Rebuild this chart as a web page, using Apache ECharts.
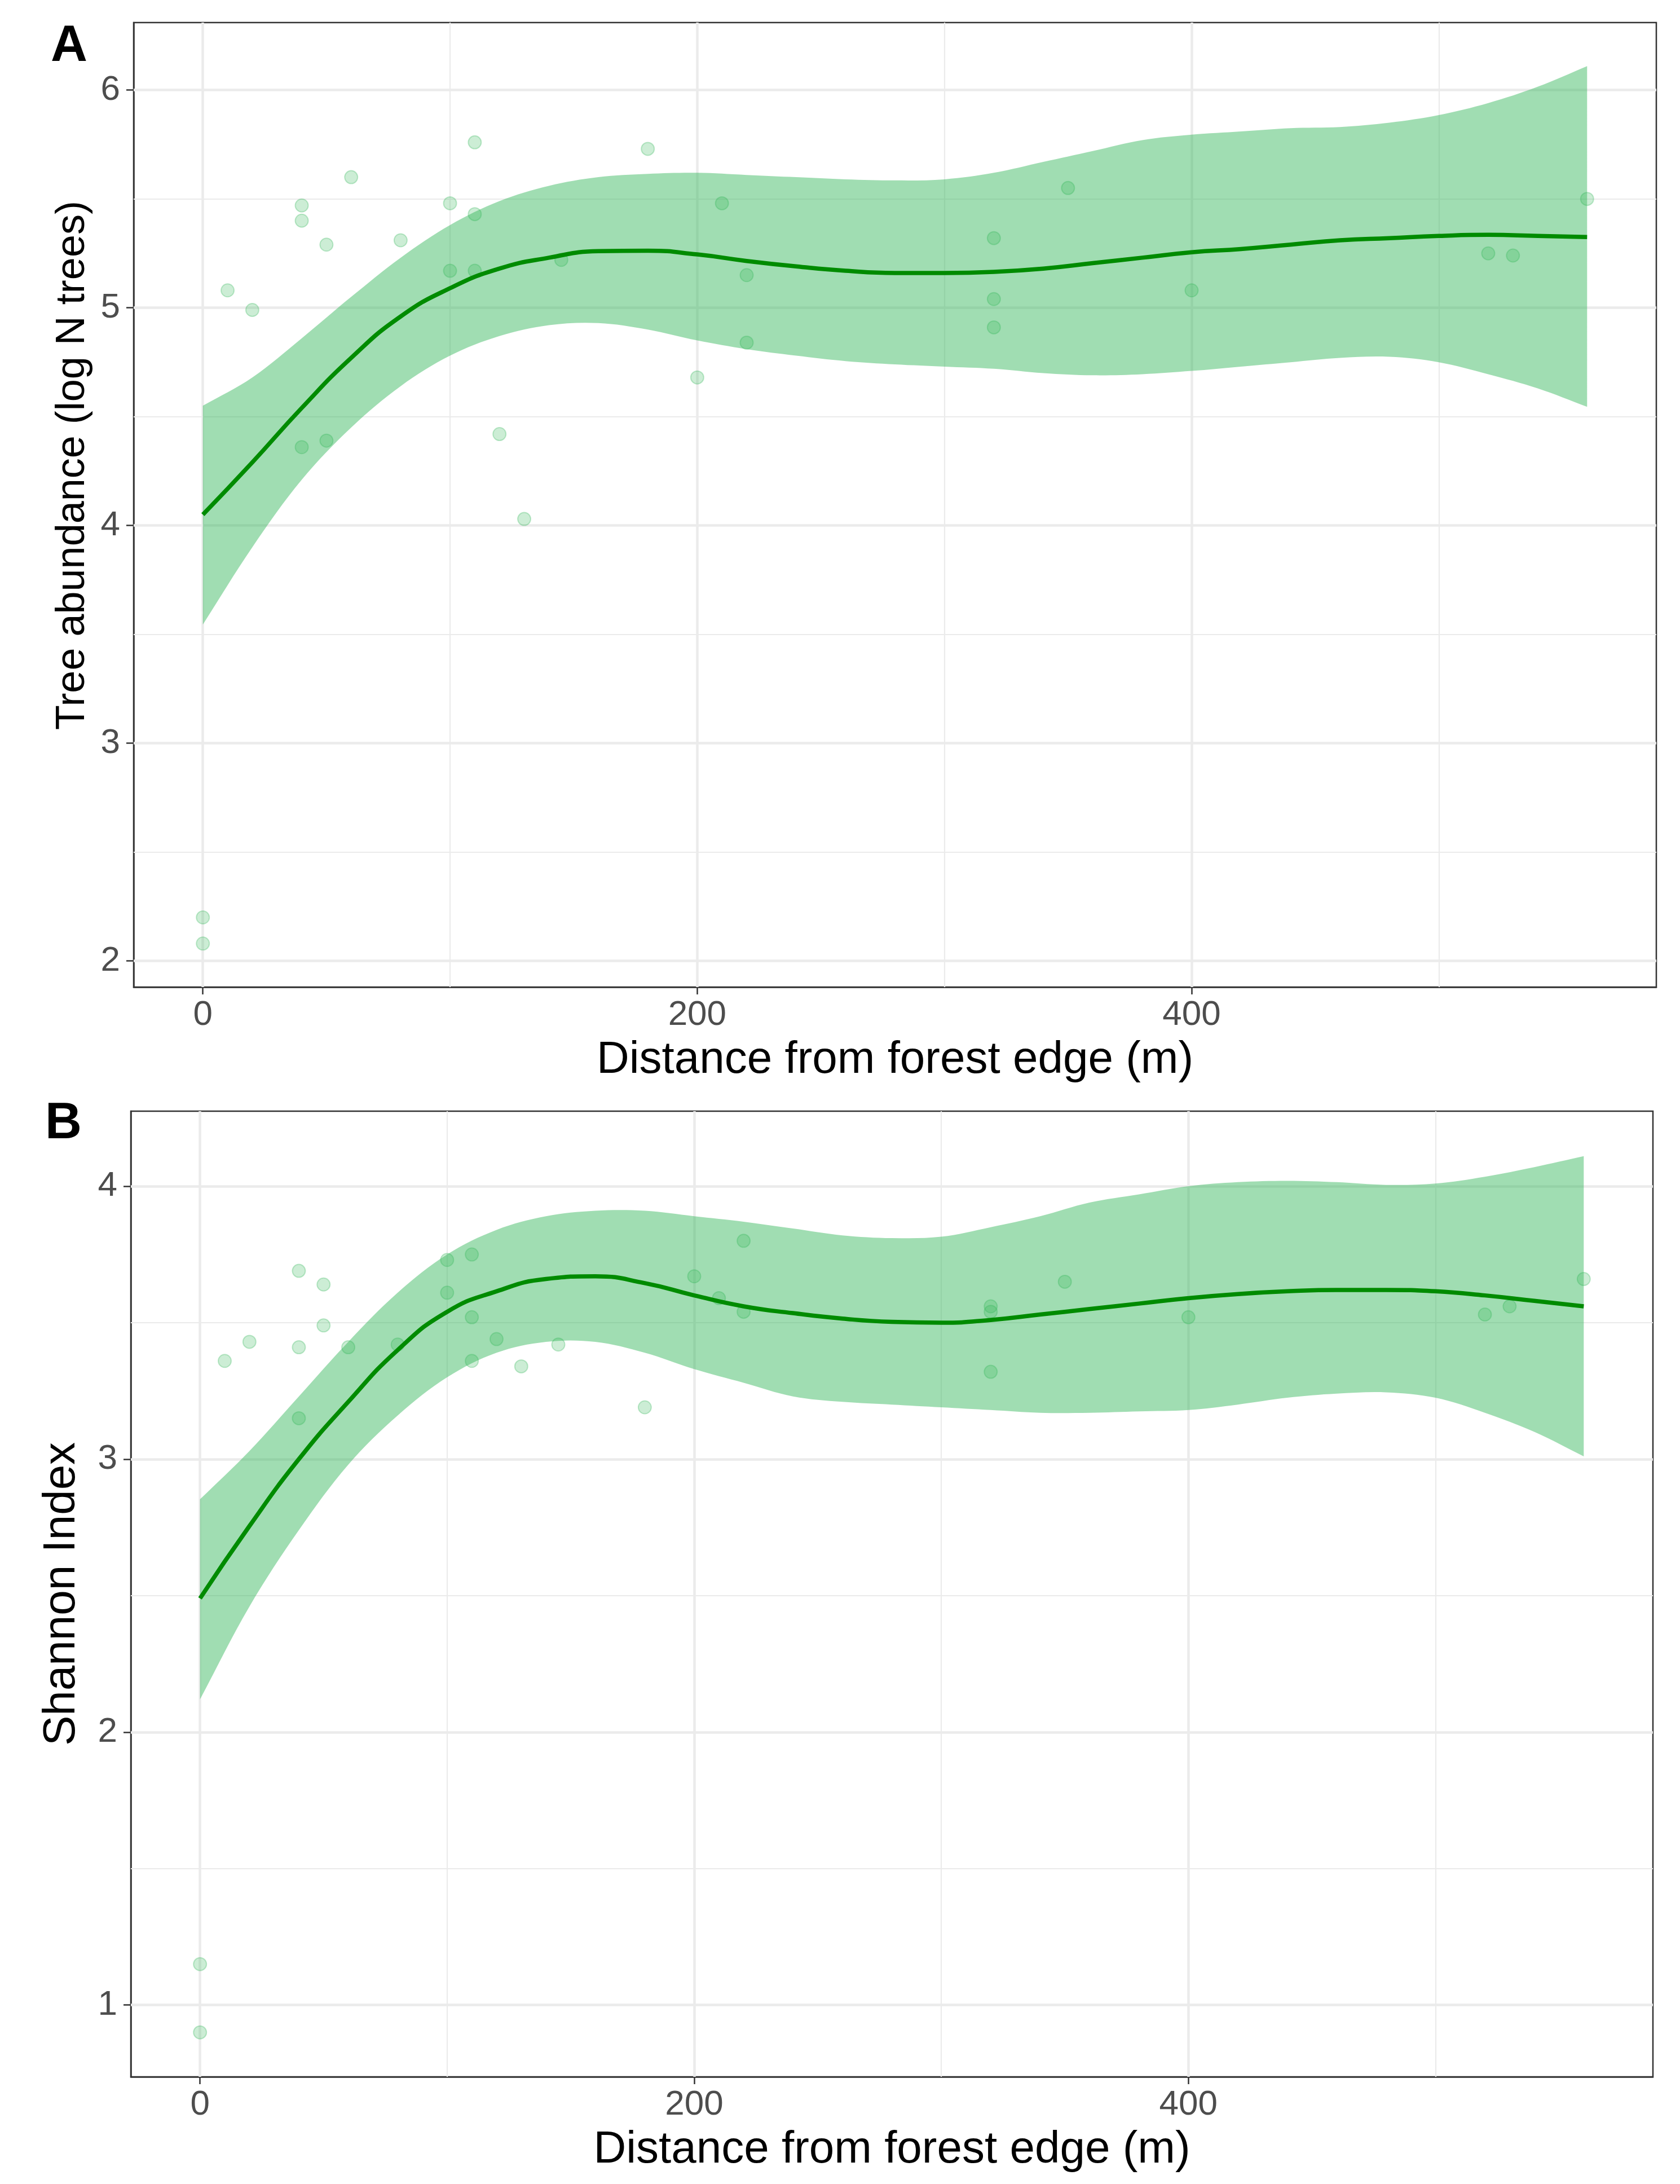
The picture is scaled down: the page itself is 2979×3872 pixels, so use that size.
<!DOCTYPE html>
<html>
<head>
<meta charset="utf-8">
<script src="https://cdn.jsdelivr.net/npm/echarts@6/dist/echarts.min.js"></script>
<style>
html,body{margin:0;padding:0;background:#ffffff;}
#chart{width:2979px;height:3872px;}
</style>
</head>
<body>
<div id="chart"></div>
<script>
// ---------- data ----------
// Panel A: tree abundance (log N trees)
const distA   = [0,0,10,20,40,40,40,50,50,60,80,100,100,110,110,110,120,130,145,180,200,210,220,220,320,320,320,350,400,520,530,560];
const abundA  = [2.20,2.08,5.08,4.99,5.47,5.40,4.36,5.29,4.39,5.60,5.31,5.48,5.17,5.76,5.43,5.17,4.42,4.03,5.22,5.73,4.68,5.48,5.15,4.84,5.32,5.04,4.91,5.55,5.08,5.25,5.24,5.50];
// Panel B: Shannon index
const distB    = [0,0,10,20,40,40,40,50,50,60,80,100,100,110,110,110,120,130,145,180,200,210,220,220,320,320,320,350,400,520,530,560];
const shannonB = [1.15,0.90,3.36,3.43,3.69,3.41,3.15,3.64,3.49,3.41,3.42,3.73,3.61,3.75,3.52,3.36,3.44,3.34,3.42,3.19,3.67,3.59,3.80,3.54,3.56,3.54,3.32,3.65,3.52,3.53,3.56,3.66];

// smooth fits (curve and confidence band) read at these distances
const fitX = [0,20,40,60,80,100,120,140,160,180,200,220,240,260,280,300,320,340,360,380,400,420,440,460,480,500,520,540,560];
const fitA = [4.05,4.29,4.54,4.77,4.96,5.09,5.18,5.23,5.26,5.262,5.245,5.215,5.19,5.17,5.16,5.16,5.165,5.18,5.205,5.23,5.255,5.27,5.29,5.31,5.32,5.33,5.335,5.33,5.325];
const hiA  = [4.55,4.68,4.86,5.05,5.23,5.38,5.49,5.56,5.60,5.615,5.62,5.61,5.60,5.59,5.585,5.59,5.62,5.67,5.72,5.77,5.795,5.81,5.825,5.83,5.85,5.885,5.94,6.015,6.11];
const loA  = [3.545,3.90,4.21,4.45,4.64,4.78,4.87,4.92,4.93,4.90,4.85,4.81,4.78,4.755,4.74,4.73,4.72,4.70,4.69,4.695,4.71,4.73,4.75,4.77,4.775,4.75,4.695,4.63,4.545];
const fitB = [2.49,2.755,3.0,3.21,3.40,3.54,3.615,3.66,3.67,3.645,3.60,3.56,3.535,3.515,3.503,3.50,3.51,3.53,3.55,3.57,3.59,3.605,3.615,3.62,3.62,3.615,3.60,3.58,3.56];
const hiB  = [2.853,3.03,3.23,3.43,3.61,3.75,3.84,3.89,3.91,3.91,3.89,3.87,3.845,3.82,3.81,3.815,3.85,3.89,3.94,3.97,4.0,4.015,4.02,4.015,4.005,4.01,4.035,4.07,4.11];
const loB  = [2.12,2.46,2.74,2.98,3.16,3.30,3.39,3.43,3.43,3.39,3.33,3.28,3.23,3.21,3.20,3.19,3.18,3.17,3.17,3.175,3.18,3.20,3.225,3.24,3.245,3.225,3.17,3.10,3.01];

// ticks / grid
const xTicks      = [0,200,400];
const xMinorGrid  = [100,300,500];
const yTicksA     = [2,3,4,5,6];
const yMinorGridA = [2.5,3.5,4.5,5.5];
const yTicksB     = [1,2,3,4];
const yMinorGridB = [1.5,2.5,3.5];

const xTitle  = 'Distance from forest edge (m)';
const yTitleA = 'Tree abundance (log N trees)';
const yTitleB = 'Shannon Index';
const panelLabels = ['A','B'];

// ---------- styling ----------
const FONT = '"Liberation Sans", Arial, Helvetica, sans-serif';
const BAND_FILL = 'rgba(44,179,84,0.45)';
const POINT_FILL = 'rgba(44,179,84,0.30)';
const LINE_COLOR = '#008B00';
const GRID_COLOR = '#EBEBEB';

function pairs(xs, ys) { return xs.map((x, i) => [x, ys[i]]); }

function gridMarkLines(xMajor, xMinor, yMajor, yMinor) {
  const d = [];
  xMinor.forEach(v => d.push({ xAxis: v, lineStyle: { width: 2.2, color: GRID_COLOR } }));
  yMinor.forEach(v => d.push({ yAxis: v, lineStyle: { width: 2.2, color: GRID_COLOR } }));
  xMajor.forEach(v => d.push({ xAxis: v, lineStyle: { width: 4.5, color: GRID_COLOR } }));
  yMajor.forEach(v => d.push({ yAxis: v, lineStyle: { width: 4.5, color: GRID_COLOR } }));
  return {
    silent: true, z: 1, symbol: ['none', 'none'], animation: false,
    label: { show: false }, emphasis: { disabled: true },
    lineStyle: { type: 'solid', color: GRID_COLOR },
    data: d
  };
}

function xAxisFor(i) {
  return {
    gridIndex: i, type: 'value', min: -28, max: 588,
    name: xTitle, nameLocation: 'middle', nameGap: 90, nameMoveOverlap: false,
    nameTextStyle: { fontSize: 80, color: '#000000', fontFamily: FONT },
    axisLine: { show: true, onZero: false, lineStyle: { color: '#333333', width: 2.5 } },
    axisTick: { show: true, length: 13, customValues: xTicks, lineStyle: { color: '#333333', width: 2.5 } },
    axisLabel: { customValues: xTicks, fontSize: 62, color: '#4D4D4D', margin: 19, fontFamily: FONT },
    splitLine: { show: false }, minorSplitLine: { show: false }
  };
}

function yAxisFor(i, min, max, ticks, title, fontSize, gap, pad) {
  return {
    gridIndex: i, type: 'value', min: min, max: max,
    name: title, nameLocation: 'middle', nameRotate: 90, nameGap: gap, nameMoveOverlap: false,
    nameTextStyle: { fontSize: fontSize, color: '#000000', fontFamily: FONT, padding: pad },
    axisLine: { show: true, onZero: false, lineStyle: { color: '#333333', width: 2.5 } },
    axisTick: { show: true, length: 13, customValues: ticks, lineStyle: { color: '#333333', width: 2.5 } },
    axisLabel: { customValues: ticks, fontSize: 62, color: '#4D4D4D', margin: 24, fontFamily: FONT },
    splitLine: { show: false }, minorSplitLine: { show: false }
  };
}

function panelSeries(i, dist, vals, fit, hi, lo, gridLines) {
  return [
    {
      type: 'custom', xAxisIndex: i, yAxisIndex: i, z: 2, silent: true,
      data: [[fitX[0], hi[0]]],
      renderItem: function (params, api) {
        const n = fitX.length;
        const pts = [];
        // upper edge (corner points doubled so the vertical ends stay straight)
        pts.push(api.coord([fitX[0], hi[0]]));
        for (let k = 0; k < n; k++) pts.push(api.coord([fitX[k], hi[k]]));
        pts.push(api.coord([fitX[n - 1], hi[n - 1]]));
        // lower edge, right to left
        pts.push(api.coord([fitX[n - 1], lo[n - 1]]));
        for (let k = n - 1; k >= 0; k--) pts.push(api.coord([fitX[k], lo[k]]));
        pts.push(api.coord([fitX[0], lo[0]]));
        return { type: 'polygon', shape: { points: pts, smooth: 0.35 }, style: { fill: BAND_FILL, stroke: null } };
      }
    },
    {
      type: 'scatter', xAxisIndex: i, yAxisIndex: i, z: 3, silent: true,
      data: pairs(dist, vals), symbol: 'circle', symbolSize: 23,
      itemStyle: { color: POINT_FILL, borderColor: 'rgba(44,179,84,0.35)', borderWidth: 2 }
    },
    {
      type: 'line', xAxisIndex: i, yAxisIndex: i, z: 4, silent: true,
      data: pairs(fitX, fit), smooth: 0.5, symbol: 'none',
      lineStyle: { color: LINE_COLOR, width: 7.5 },
      markLine: gridLines
    }
  ];
}

const chart = echarts.init(document.getElementById('chart'), null, { renderer: 'canvas' });
chart.setOption({
  animation: false,
  backgroundColor: '#ffffff',
  textStyle: { fontFamily: FONT },
  grid: [
    { left: 237, top: 40, width: 2700, height: 1710, show: true, borderColor: '#333333', borderWidth: 2.5, backgroundColor: 'transparent', containLabel: false, outerBoundsMode: 'none' },
    { left: 232, top: 1970, width: 2699, height: 1712, show: true, borderColor: '#333333', borderWidth: 2.5, backgroundColor: 'transparent', containLabel: false, outerBoundsMode: 'none' }
  ],
  xAxis: [xAxisFor(0), xAxisFor(1)],
  yAxis: [
    yAxisFor(0, 1.88, 6.31, yTicksA, yTitleA, 72, 72, [0, 0, 0, 140]),
    yAxisFor(1, 0.737, 4.275, yTicksB, yTitleB, 80, 82, 0)
  ],
  graphic: [
    { type: 'text', left: 90, top: 38, style: { text: panelLabels[0], font: 'bold 90px ' + FONT, fill: '#000000' } },
    { type: 'text', left: 80, top: 1948, style: { text: panelLabels[1], font: 'bold 90px ' + FONT, fill: '#000000' } }
  ],
  series: [].concat(
    panelSeries(0, distA, abundA, fitA, hiA, loA, gridMarkLines(xTicks, xMinorGrid, yTicksA, yMinorGridA)),
    panelSeries(1, distB, shannonB, fitB, hiB, loB, gridMarkLines(xTicks, xMinorGrid, yTicksB, yMinorGridB))
  )
});
</script>
</body>
</html>
